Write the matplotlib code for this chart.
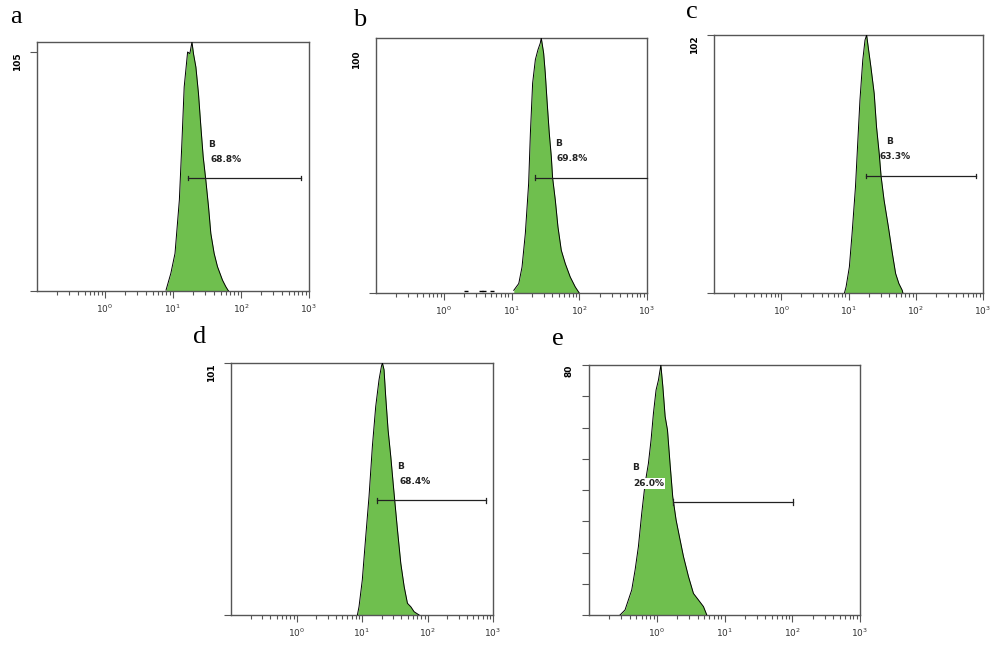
import numpy as np
import matplotlib
matplotlib.use('Agg')
from matplotlib import pyplot as plt
from matplotlib.ticker import FixedLocator, NullFormatter

# FLUORESCENCE HISTOGRAMS (intensity, count)
a_x = [7.9, 9.3, 10.7, 12.4, 13.5, 14.6, 16.4, 17.7, 19.0, 20.0, 21.7, 23.7, 25.7, 27.8,
       30.4, 33.3, 36.0, 40.3, 45.1, 53.4, 59.8, 65.5]
a_y = [0.4, 7.8, 16.5, 40.0, 64.9, 89.7, 105.1, 104.4, 109.5, 104.4, 98.5, 86.8, 72.2, 59.0,
       48.7, 37.0, 25.3, 16.5, 10.7, 4.8, 1.9, 0]

b_x = [10.8, 12.8, 14.3, 16.0, 17.9, 19.0, 20.5, 22.5, 24.6, 26.6, 27.5, 29.8, 31.5, 33.4,
       36.1, 38.7, 40.4, 44.3, 48.5, 54.3, 62.2, 73.6, 87.3, 100]
b_y = [1.1, 3.9, 10.7, 24.5, 45.1, 65.8, 86.4, 96.1, 100.2, 102.9, 105, 98.8, 90.6, 79.5,
       65.8, 56.1, 47.5, 38.3, 27.2, 17.6, 12.1, 6.6, 2.5, 0]
b_sparse_x = [2.1, 3.5, 3.9, 5.1]
b_sparse_y = [1, 1, 1, 1]

c_x = [8.7, 9.2, 10.3, 11.3, 12.7, 13.7, 14.8, 16.3, 17.6, 18.6, 19.9, 21.5, 24.1, 26.1,
       28.6, 30.5, 33.8, 39.2, 44.9, 50.2, 56.2, 62.9, 64.4]
c_y = [0, 2.4, 10.3, 23.5, 42.0, 59.1, 76.3, 92.1, 100, 102, 96.1, 89.5, 78.9, 65.7,
       55.2, 46.2, 36.7, 26.1, 15.6, 7.7, 3.7, 1.1, 0]

d_x = [8.5, 9.0, 10.1, 11.4, 12.8, 14.4, 16.2, 18.2, 19.8, 20.5, 21.7, 23.0, 25.0, 27.5,
       30.2, 31.6, 34.8, 39.1, 44.0, 49.4, 55.6, 62.5, 74.5]
d_y = [0, 3.3, 14.0, 31.4, 47.5, 67.6, 83.6, 94.3, 99.7, 101, 98.3, 87.6, 74.2, 63.5,
       51.5, 45.9, 34.1, 20.7, 11.4, 4.7, 3.3, 1.3, 0]

e_x = [0.287, 0.340, 0.381, 0.427, 0.479, 0.536, 0.600, 0.673, 0.753, 0.824, 0.893, 0.977,
       1.06, 1.15, 1.23, 1.33, 1.44, 1.57, 1.72, 1.93, 2.16, 2.48, 2.94, 3.48, 4.13, 4.89, 5.48]
e_y = [0, 1.6, 4.8, 8.0, 14.4, 21.9, 32.5, 42.1, 48.5, 56.0, 64.5, 72.0, 75.2, 80, 73.1,
       63.5, 59.2, 48.5, 37.9, 30.4, 25.1, 18.7, 12.3, 6.9, 4.8, 2.7, 0]

labels = ['a', 'b', 'c', 'd', 'e']
y_max_label = [105, 100, 102, 101, 80]
gate_start = [16.4, 22.5, 18.2, 17.2, 1.76]
gate_end = [760, 1000, 780, 782, 101]
gate_level = [49.7, 47.5, 46.2, 45.9, 36.1]
gate_pct = ['68.8%', '69.8%', '63.3%', '68.4%', '26.0%']

hists = [(a_x, a_y), (b_x, b_y), (c_x, c_y), (d_x, d_y), (e_x, e_y)]

# layout in pixels (left, top, right, bottom) of each axes box
W, H = 992, 648
boxes = [(37, 42, 309, 291), (376, 38, 647, 293), (714, 35, 983, 293),
         (231, 363, 493, 615), (589, 365, 860, 615)]
ylims = [109.5, 105, 102, 101, 80]
label_pos = [(10, 23), (353, 26), (686, 18), (193, 343), (552, 345)]
# (B text x, B text y, pct text x, pct text y)
text_pos = [(32.5, 64.4, 35.6, 57.8), (44, 61.6, 46.8, 55.5), (35.8, 59.8, 29.2, 54.1),
            (34.7, 59.5, 36.8, 53.5), (0.43, 47.1, 0.45, 42.1)]

GREEN = '#6fbf4e'
AXC = '#555555'

fig = plt.figure(figsize=(W / 100, H / 100), dpi=100)

for i in range(5):
    l, t, r, b = boxes[i]
    ax = fig.add_axes([l / W, 1 - b / H, (r - l) / W, (b - t) / H])
    hx, hy = hists[i]
    ax.fill_between(hx, hy, 0, color=GREEN, lw=0, zorder=2)
    ax.plot(hx, hy, color='black', lw=0.7, zorder=3)
    if i == 1:
        ax.plot(b_sparse_x, b_sparse_y, ls='none', marker='_', ms=3, color='black', mew=1)

    ax.set_xscale('log')
    ax.set_xlim(0.1, 1000)
    ax.set_ylim(0, ylims[i])

    ax.xaxis.set_major_locator(FixedLocator([1, 10, 100, 1000]))
    minors = [m * 10.0 ** k for k in range(-1, 3) for m in range(2, 10)]
    ax.xaxis.set_minor_locator(FixedLocator(minors))
    ax.xaxis.set_minor_formatter(NullFormatter())
    ax.set_xticklabels(['$10^{0}$', '$10^{1}$', '$10^{2}$', '$10^{3}$'])
    ax.tick_params(axis='x', which='major', length=5, width=0.8, color=AXC,
                   labelsize=6.5, labelcolor='#333333', pad=3)
    ax.tick_params(axis='x', which='minor', length=3, width=0.8, color=AXC)

    if i == 4:
        ax.set_yticks(range(0, 81, 10))
        ax.set_yticklabels([''] * 8 + ['80'])
    else:
        ax.set_yticks([0, y_max_label[i]])
        ax.set_yticklabels(['', str(y_max_label[i])])
    ax.tick_params(axis='y', length=5, width=0.8, color=AXC, labelsize=6.5, pad=6)
    if i == 1:
        ax.yaxis.get_major_ticks()[1].tick1line.set_visible(False)
    for lab in ax.get_yticklabels():
        lab.set_rotation(90)
        lab.set_va('top')
        lab.set_fontweight('bold')

    for sp in ax.spines.values():
        sp.set_color(AXC)
        sp.set_linewidth(1.0)

    # gate marker
    ax.plot([gate_start[i], gate_end[i]], [gate_level[i], gate_level[i]],
            color='#222222', lw=0.9, zorder=4, clip_on=False)
    for gx in (gate_start[i], gate_end[i]):
        if gx < 1000:
            ax.plot([gx, gx], [gate_level[i] - 0.9, gate_level[i] + 0.9], color='#222222',
                    lw=0.9, zorder=4)
    bx, by, px, py = text_pos[i]
    ax.text(bx, by, 'B', fontsize=6.5, fontweight='bold', color='#222222',
            ha='left', va='center', zorder=5)
    box = dict(facecolor='white', edgecolor='none', pad=0.5) if i == 4 else None
    ax.text(px, py, gate_pct[i], fontsize=6.5, fontweight='bold', color='#222222',
            ha='left', va='center', zorder=5, bbox=box)

    lx, ly = label_pos[i]
    fig.text(lx / W, 1 - ly / H, labels[i], fontsize=19, family='Liberation Serif',
             ha='left', va='baseline')

fig.savefig('out.png', dpi=100)
